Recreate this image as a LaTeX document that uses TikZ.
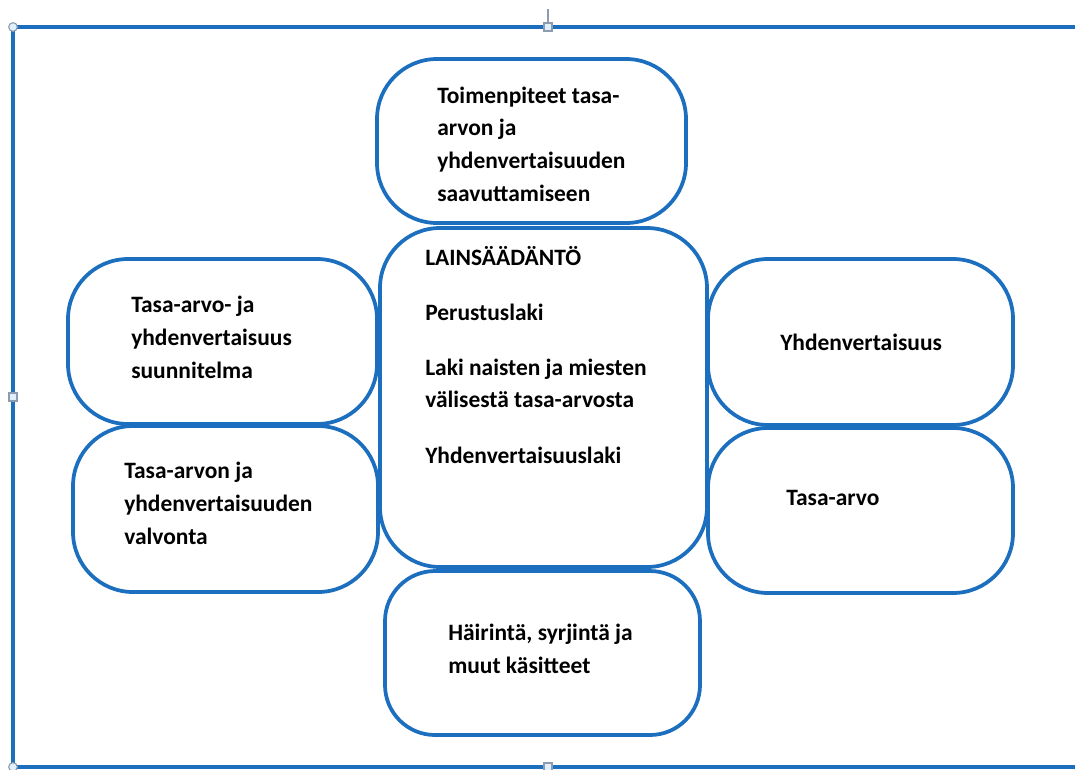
\documentclass[tikz,border=0pt]{standalone}
\usepackage{fontspec}
\setmainfont{Carlito}
\definecolor{boxblue}{RGB}{28,110,190}
\definecolor{handlegray}{RGB}{140,155,175}
\definecolor{handlefill}{RGB}{225,240,250}
\tikzset{
  pill/.style={draw=boxblue, line width=2.8pt, rounded corners=45pt, inner sep=0pt},
  label text/.style={anchor=base west, align=left, inner sep=0pt,
    font=\fontsize{17.6}{24.4}\selectfont\bfseries},
  handle/.style={draw=handlegray, fill=handlefill, line width=0.8pt, inner sep=0pt}
}
\begin{document}
\begin{tikzpicture}[x=0.75pt,y=-0.75pt]
\clip (0,0) rectangle (1075,769);
\fill[white] (0,0) rectangle (1075,769);

% frame of the drawing canvas
\coordinate (TL) at (13,27);
\coordinate (BL) at (13,767);
\coordinate (TR) at (1090,27);
\coordinate (BR) at (1090,767);
\draw[boxblue, line width=2.4pt] (TR) -- (TL) -- (BL) -- (BR);

% boxes
\node[pill, minimum width=245.25pt, minimum height=254.25pt] (laws) at (543.5,397.5) {};
\node[pill, minimum width=231.75pt, minimum height=123pt] (actions) at (531.5,141) {};
\node[pill, minimum width=231.75pt, minimum height=123.75pt] (plan) at (222.5,341.5) {};
\node[pill, minimum width=228.75pt, minimum height=124.5pt] (control) at (225.5,509) {};
\node[pill, minimum width=228.75pt, minimum height=124.5pt] (equality) at (860.5,342) {};
\node[pill, minimum width=228.75pt, minimum height=123.75pt] (gender) at (860.5,510.5) {};
\node[pill, rounded corners=37.5pt, minimum width=236.25pt, minimum height=123pt] (terms) at (542.5,653) {};

% texts (placed at the baseline of their last line)
\node[label text] (actionsText) at (437,201) {Toimenpiteet tasa-\\arvon ja\\yhdenvertaisuuden\\saavuttamiseen};
\node[label text] (lawsText) at (425,463) {LAINSÄÄDÄNTÖ\\[16.9pt]Perustuslaki\\[16.9pt]Laki naisten ja miesten\\välisestä tasa-arvosta\\[16.9pt]Yhdenvertaisuuslaki};
\node[label text] (planText) at (131,378) {Tasa-arvo- ja\\yhdenvertaisuus\\suunnitelma};
\node[label text] (controlText) at (124,544) {Tasa-arvon ja\\yhdenvertaisuuden\\valvonta};
\node[label text] (equalityText) at (780,350) {Yhdenvertaisuus};
\node[label text] (genderText) at (786,505) {Tasa-arvo};
\node[label text] (termsText) at (448,673) {Häirintä, syrjintä ja\\muut käsitteet};

% selection handles
\coordinate (rot) at (548,9);
\node[handle, minimum size=6pt] (hTop) at (548,27) {};
\draw[handlegray, line width=0.8pt] (rot) -- (hTop.north);
\node[handle, circle, minimum size=6.5pt] (hTL) at (TL) {};
\node[handle, minimum size=6pt] (hLeft) at (13,397) {};
\node[handle, circle, minimum size=6.5pt] (hBL) at (BL) {};
\node[handle, minimum size=6pt] (hBottom) at (548,767) {};
\end{tikzpicture}
\end{document}
